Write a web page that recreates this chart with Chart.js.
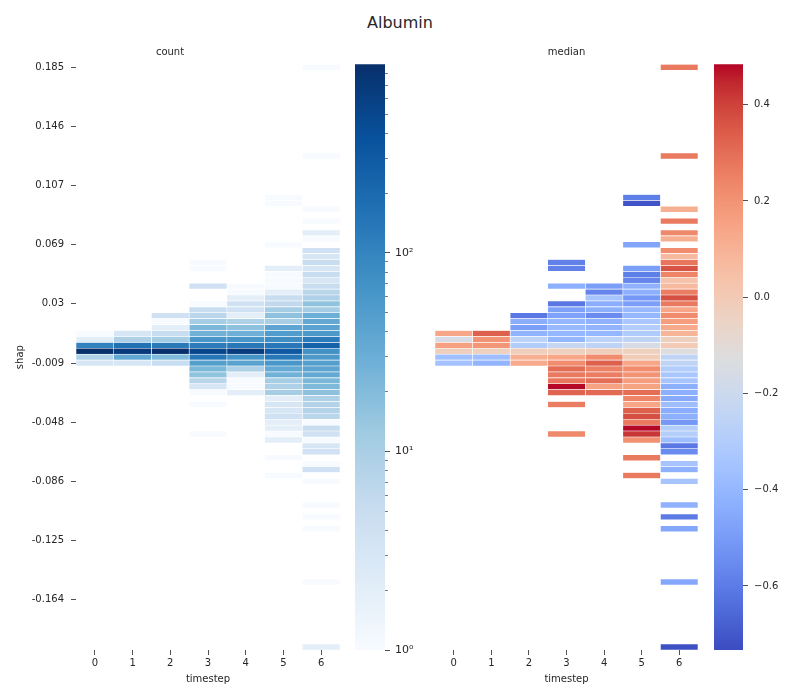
<!DOCTYPE html>
<html>
<head>
<meta charset="utf-8">
<script src="https://cdn.jsdelivr.net/npm/chart.js@4/dist/chart.umd.min.js"></script>
<style>
  body { margin: 0; background: #fff; }
  #wrap { position: relative; width: 800px; height: 700px; font-family: 'DejaVu Sans', sans-serif; }
  #wrap canvas { position: absolute; top: 0; }
  #title { position: absolute; left: 0; width: 800px; top: 13px; text-align: center; font-size: 16px; color: #262626; }
</style>
</head>
<body>
<div id="wrap">
  <div id="title">Albumin</div>
  <canvas id="countChart" width="345" height="700" style="left:0"></canvas>
  <canvas id="countBar" width="80" height="700" style="left:350px"></canvas>
  <canvas id="medianChart" width="275" height="700" style="left:430px"></canvas>
  <canvas id="medianBar" width="95" height="700" style="left:705px"></canvas>
</div>
<script>
// timesteps on the x axis
var timesteps = ['0', '1', '2', '3', '4', '5', '6'];

// shap bins: row 0 is the top bin, 99 bins, labels every 10th row
var yTickRows = [0, 10, 20, 30, 40, 50, 60, 70, 80, 90];
var yTickLabels = ['0.185', '0.146', '0.107', '0.069', '0.03', '-0.009', '-0.048', '-0.086', '-0.125', '-0.164'];
var rowCount = 99;

// occupied bins per timestep
var binRows = [
  [45, 46, 47, 48, 49, 50],
  [45, 46, 47, 48, 49, 50],
  [42, 43, 44, 45, 46, 47, 48, 49, 50],
  [33, 34, 37, 40, 41, 42, 43, 44, 45, 46, 47, 48, 49, 50, 51, 52, 53, 54, 55, 57, 62],
  [37, 38, 39, 40, 41, 42, 43, 44, 45, 46, 47, 48, 49, 50, 51, 52, 53, 54, 55],
  [22, 23, 30, 34, 35, 36, 37, 38, 39, 40, 41, 42, 43, 44, 45, 46, 47, 48, 49, 50, 51, 52, 53, 54, 55, 56, 57, 58, 59, 60, 61, 62, 63, 66, 69],
  [0, 15, 24, 26, 28, 29, 31, 32, 33, 34, 35, 36, 37, 38, 39, 40, 41, 42, 43, 44, 45, 46, 47, 48, 49, 50, 51, 52, 53, 54, 55, 56, 57, 58, 59, 60, 61, 62, 63, 64, 65, 67, 68, 70, 74, 76, 78, 87, 98]
];

// count in each bin
var counts = [
  [1, 2, 105, 890, 9, 3],
  [3, 9, 164, 680, 36, 3],
  [4, 1, 2, 5, 11, 130, 880, 21, 5],
  [1, 1, 4, 1, 5, 7, 11, 22, 27, 60, 125, 500, 140, 49, 23, 16, 7, 3, 1, 1, 1],
  [1, 1, 2, 4, 4, 2, 9, 17, 29, 62, 135, 650, 65, 42, 9, 2, 1, 1, 2],
  [1, 1, 1, 2, 1, 1, 1, 2, 5, 6, 11, 17, 10, 39, 52, 78, 135, 310, 135, 60, 34, 27, 11, 9, 11, 2, 3, 3, 4, 2, 2, 1, 2, 1, 1],
  [1, 1, 1, 1, 2, 1, 4, 3, 5, 3, 5, 3, 5, 7, 9, 16, 11, 30, 36, 42, 58, 125, 240, 70, 55, 47, 40, 36, 23, 21, 17, 9, 8, 8, 7, 1, 5, 4, 1, 3, 4, 1, 4, 1, 1, 1, 1, 1, 2]
];

// median of the target in each bin
var medians = [
  [0.14, -0.16, 0.16, -0.02, -0.36, -0.35],
  [0.33, 0.20, 0.19, -0.03, -0.37, -0.41],
  [-0.61, -0.44, -0.49, -0.41, -0.26, -0.30, -0.02, 0.11, 0.13],
  [-0.58, -0.58, -0.43, -0.61, -0.48, -0.48, -0.40, -0.39, -0.40, -0.40, -0.22, -0.03, 0.14, 0.22, 0.30, 0.27, 0.28, 0.48, 0.32, 0.26, 0.23],
  [-0.49, -0.57, -0.34, -0.44, -0.43, -0.55, -0.42, -0.41, -0.40, -0.26, -0.25, -0.02, 0.22, 0.33, 0.25, 0.26, 0.30, 0.15, 0.31],
  [-0.59, -0.71, -0.465, -0.49, -0.59, -0.57, -0.42, -0.43, -0.51, -0.49, -0.39, -0.40, -0.33, -0.30, -0.31, -0.25, -0.16, -0.03, -0.01, 0.14, 0.22, 0.20, 0.17, 0.15, 0.30, 0.24, 0.14, 0.33, 0.37, 0.27, 0.48, 0.42, 0.21, 0.27, 0.27],
  [0.27, 0.27, 0.11, 0.27, 0.23, 0.11, 0.22, 0.07, 0.28, 0.36, 0.24, 0.03, 0.07, 0.26, 0.37, 0.27, 0.14, 0.22, 0.17, 0.13, 0.09, -0.03, 0.00, -0.12, -0.25, -0.25, -0.30, -0.33, -0.34, -0.43, -0.43, -0.45, -0.37, -0.44, -0.43, -0.51, -0.29, -0.29, -0.37, -0.61, -0.55, -0.34, -0.42, -0.34, -0.42, -0.60, -0.46, -0.46, -0.72]
];

// colour bar ranges and ticks
var countMin = 1, countMax = 890;
var countMajorTicks = [1, 10, 100];
var countMajorLabels = ['10\u2070', '10\u00b9', '10\u00b2'];
var countMinorTicks = [2, 3, 4, 5, 6, 7, 8, 9, 20, 30, 40, 50, 60, 70, 80, 90, 200, 300, 400, 500, 600, 700, 800];
var medianMin = -0.733, medianMax = 0.484;
var medianTicks = [-0.6, -0.4, -0.2, 0.0, 0.2, 0.4];
var medianTickLabels = ['\u22120.6', '\u22120.4', '\u22120.2', '0.0', '0.2', '0.4'];

// colormaps
var blues = [[247,251,255],[222,235,247],[198,219,239],[158,202,225],[107,174,214],[66,146,198],[33,113,181],[8,81,156],[8,48,107]];
var coolwarm = [[59,76,192],[68,90,204],[77,104,215],[87,117,225],[98,130,234],[108,142,241],[119,154,247],[130,165,251],
  [141,176,254],[152,185,255],[163,194,255],[174,201,253],[184,208,249],[194,213,244],[204,217,238],[213,219,230],
  [221,221,221],[229,216,209],[236,211,197],[241,204,185],[245,196,173],[247,187,160],[247,177,148],[247,166,135],
  [244,154,123],[241,141,111],[236,127,99],[229,112,88],[222,96,77],[213,80,66],[203,62,56],[192,40,47],[180,4,38]];

function pick(stops, t) {
  t = Math.max(0, Math.min(1, t));
  var n = stops.length - 1;
  var f = t * n;
  var i = Math.min(Math.floor(f), n - 1);
  var u = f - i;
  var a = stops[i], b = stops[i + 1];
  return 'rgb(' + Math.round(a[0] + (b[0] - a[0]) * u) + ',' + Math.round(a[1] + (b[1] - a[1]) * u) + ',' + Math.round(a[2] + (b[2] - a[2]) * u) + ')';
}
function countColor(c) { return pick(blues, Math.log10(c) / Math.log10(countMax)); }
function medianColor(v) { return pick(coolwarm, (v - medianMin) / (medianMax - medianMin)); }

function gradientFill(ctx, stops) {
  var area = ctx.chart.chartArea;
  if (!area) return 'rgba(0,0,0,0)';
  var g = ctx.chart.ctx.createLinearGradient(0, area.bottom, 0, area.top);
  stops.forEach(function (s, i) {
    g.addColorStop(i / (stops.length - 1), 'rgb(' + s[0] + ',' + s[1] + ',' + s[2] + ')');
  });
  return g;
}

Chart.defaults.font.family = "'DejaVu Sans', sans-serif";
Chart.defaults.font.size = 10;
Chart.defaults.color = '#262626';

var ink = '#262626';

function heatDatasets(values, colorFn) {
  return timesteps.map(function (t, ti) {
    return {
      data: binRows[ti].map(function (r, i) {
        return { x: t, y: [r - 0.5, r + 0.5], v: values[ti][i] };
      }),
      backgroundColor: function (ctx) { return ctx.raw ? colorFn(ctx.raw.v) : 'rgba(0,0,0,0)'; },
      borderColor: '#ffffff',
      borderWidth: 0.6,
      borderSkipped: false,
      grouped: false,
      categoryPercentage: 1,
      barPercentage: 1
    };
  });
}

function heatOptions(title, showY, padLeft, padRight) {
  return {
    responsive: false,
    animation: false,
    layout: { padding: { top: 40, bottom: 0, left: padLeft, right: padRight } },
    plugins: {
      legend: { display: false },
      tooltip: { enabled: false },
      title: { display: true, text: title, color: ink, font: { size: 10, weight: 'normal' }, padding: { top: 6, bottom: 6.3 } }
    },
    scales: {
      x: {
        grid: { drawOnChartArea: false, offset: false, tickLength: 5, tickColor: ink, tickWidth: 0.8 },
        border: { display: false },
        ticks: { color: ink, padding: 2, maxRotation: 0 },
        title: { display: true, text: 'timestep', color: ink, padding: { top: 0, bottom: 15 } },
        afterFit: function (s) { s.height = 50; }
      },
      y: {
        type: 'linear',
        display: showY,
        reverse: true,
        min: -0.5,
        max: rowCount - 0.5,
        afterBuildTicks: function (s) { s.ticks = yTickRows.map(function (v) { return { value: v }; }); },
        ticks: {
          color: ink, padding: 7, autoSkip: false,
          callback: function (v) { return yTickLabels[yTickRows.indexOf(v)]; }
        },
        grid: { drawOnChartArea: false, tickLength: 5, tickColor: ink, tickWidth: 0.8 },
        border: { display: false },
        title: { display: true, text: 'shap', color: ink, padding: { top: 14, bottom: 0 } },
        afterFit: function (s) { s.width = showY ? 76 : 0; }
      }
    }
  };
}

new Chart(document.getElementById('countChart'), {
  type: 'bar',
  data: { labels: timesteps, datasets: heatDatasets(counts, countColor) },
  options: heatOptions('count', true, 0, 5)
});

new Chart(document.getElementById('medianChart'), {
  type: 'bar',
  data: { labels: timesteps, datasets: heatDatasets(medians, medianColor) },
  options: heatOptions('median', false, 5, 7)
});

// colour bars
function barOptions(padLeft, axisWidth, yMain, yMinor) {
  var scales = { x: { display: false }, y: yMain };
  if (yMinor) scales.yMinor = yMinor;
  yMain.afterFit = function (s) { s.width = axisWidth; };
  return {
    responsive: false,
    animation: false,
    layout: { padding: { top: 64.3, bottom: 50, left: padLeft, right: 0 } },
    plugins: { legend: { display: false }, tooltip: { enabled: false } },
    scales: scales
  };
}

new Chart(document.getElementById('countBar'), {
  type: 'bar',
  data: {
    labels: [''],
    datasets: [{
      data: [[countMin, countMax]],
      backgroundColor: function (ctx) { return gradientFill(ctx, blues); },
      borderWidth: 0, categoryPercentage: 1, barPercentage: 1
    }]
  },
  options: barOptions(5, 45, {
    type: 'logarithmic', position: 'right', weight: 1, min: countMin, max: countMax,
    afterBuildTicks: function (s) { s.ticks = countMajorTicks.map(function (v) { return { value: v }; }); },
    ticks: { color: ink, padding: 5, autoSkip: false, font: { size: 11 },
      callback: function (v) { return countMajorLabels[countMajorTicks.indexOf(v)]; } },
    grid: { drawOnChartArea: false, tickLength: 5, tickColor: ink, tickWidth: 0.8 },
    border: { display: false }
  }, {
    type: 'logarithmic', position: 'right', weight: 0, min: countMin, max: countMax,
    afterBuildTicks: function (s) { s.ticks = countMinorTicks.map(function (v) { return { value: v }; }); },
    ticks: { display: false },
    grid: { drawOnChartArea: false, tickLength: 3, tickColor: ink, tickWidth: 0.6 },
    border: { display: false },
    afterFit: function (s) { s.width = 0; }
  })
});

new Chart(document.getElementById('medianBar'), {
  type: 'bar',
  data: {
    labels: [''],
    datasets: [{
      data: [[medianMin, medianMax]],
      backgroundColor: function (ctx) { return gradientFill(ctx, coolwarm); },
      borderWidth: 0, categoryPercentage: 1, barPercentage: 1
    }]
  },
  options: barOptions(9, 57, {
    type: 'linear', position: 'right', min: medianMin, max: medianMax,
    afterBuildTicks: function (s) { s.ticks = medianTicks.map(function (v) { return { value: v }; }); },
    ticks: { color: ink, padding: 6, autoSkip: false,
      callback: function (v) { return medianTickLabels[medianTicks.indexOf(v)]; } },
    grid: { drawOnChartArea: false, tickLength: 5, tickColor: ink, tickWidth: 0.8 },
    border: { display: false }
  })
});
</script>
</body>
</html>
